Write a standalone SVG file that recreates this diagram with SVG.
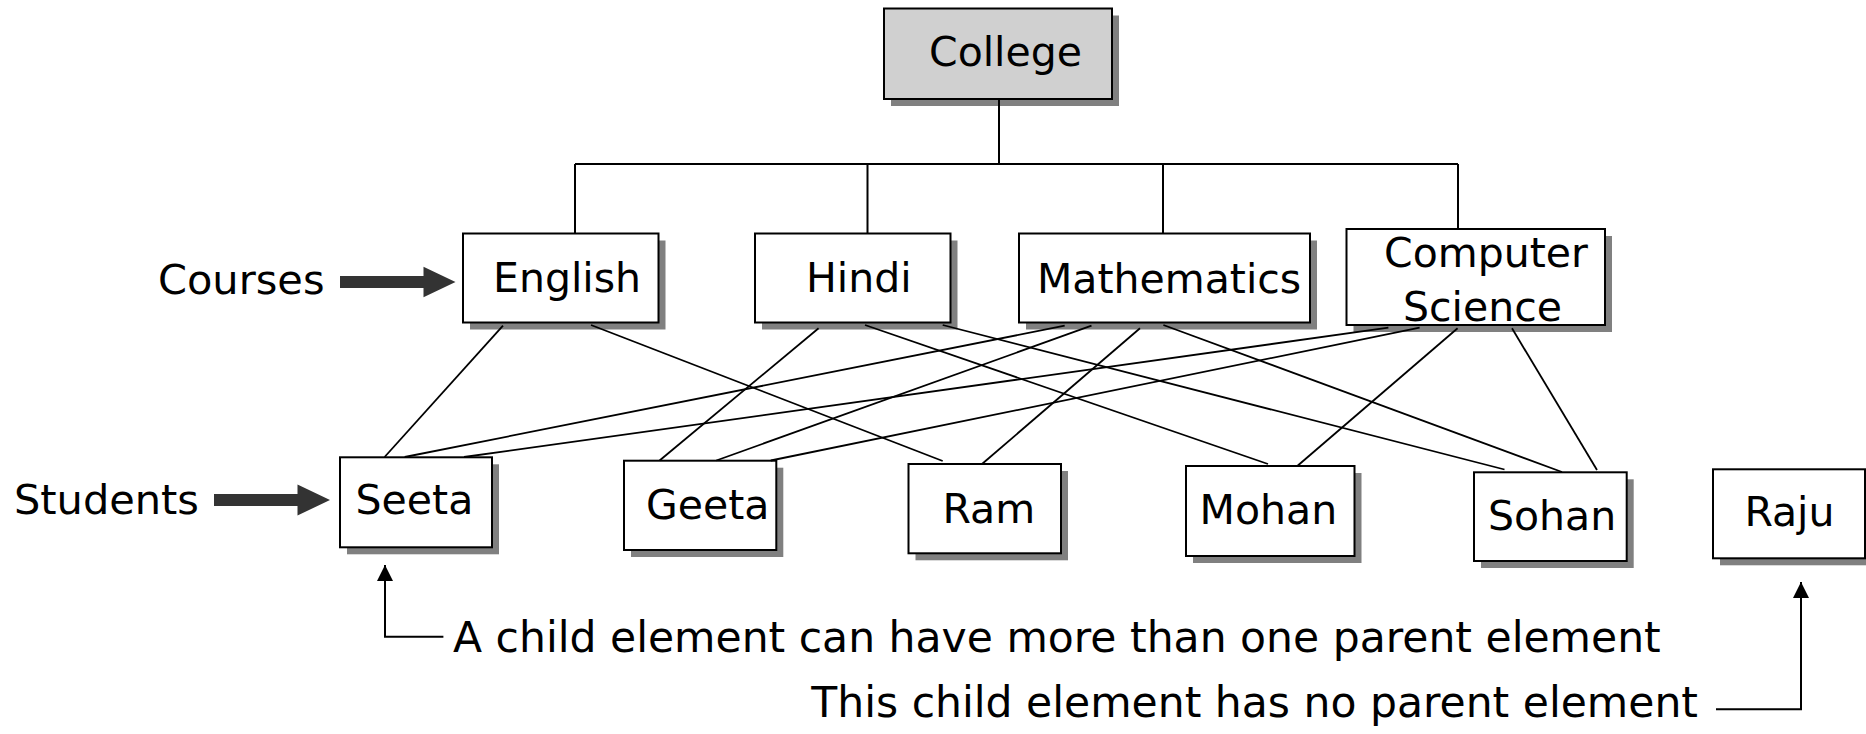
<svg xmlns="http://www.w3.org/2000/svg" width="1866" height="734" viewBox="0 0 1866 734">
  <style>
    .shadow { fill: #808080; }
    .box { fill: #ffffff; stroke: #000000; stroke-width: 2; }
    .root { fill: #d0d0d0; stroke: #000000; stroke-width: 2; }
    .label { font-family: "DejaVu Sans", Verdana, sans-serif; font-size: 41px; fill: #000000; }
    .side { font-family: "DejaVu Sans", Verdana, sans-serif; font-size: 41.5px; fill: #000000; }
    .note { font-family: "DejaVu Sans", Verdana, sans-serif; font-size: 42.5px; fill: #000000; }
    .tree { stroke: #000000; stroke-width: 2; fill: none; }
    .link { stroke: #000000; stroke-width: 1.8; fill: none; }
    .pointer { stroke: #000000; stroke-width: 2; fill: none; }
    .bigarrow { fill: #333333; }
  </style>
  <defs>
    <marker id="tip" markerUnits="userSpaceOnUse" markerWidth="18" markerHeight="18" refX="16" refY="8" orient="auto">
      <path d="M0,0 L16,8 L0,16 Z" fill="#000000"/>
    </marker>
  </defs>
  <rect width="1866" height="734" fill="#ffffff"/>

  <!-- root -->
  <g id="college">
    <rect class="shadow" x="891" y="15.5" width="228" height="90.5"/>
    <rect class="root" x="884" y="8.5" width="228" height="90.5"/>
    <text class="label" x="929" y="66">College</text>
  </g>

  <!-- courses -->
  <g id="english">
    <rect class="shadow" x="470" y="240.5" width="195.5" height="89"/>
    <rect class="box" x="463" y="233.5" width="195.5" height="89"/>
    <text class="label" x="493" y="292">English</text>
  </g>
  <g id="hindi">
    <rect class="shadow" x="762" y="240.5" width="195.5" height="89"/>
    <rect class="box" x="755" y="233.5" width="195.5" height="89"/>
    <text class="label" x="806" y="292">Hindi</text>
  </g>
  <g id="mathematics">
    <rect class="shadow" x="1026" y="240.5" width="291" height="89"/>
    <rect class="box" x="1019" y="233.5" width="291" height="89"/>
    <text class="label" x="1037" y="293">Mathematics</text>
  </g>
  <g id="computer-science">
    <rect class="shadow" x="1353.5" y="236" width="258.5" height="96"/>
    <rect class="box" x="1346.5" y="229" width="258.5" height="96"/>
    <text class="label" x="1384" y="266.5">Computer</text>
    <text class="label" x="1403" y="321">Science</text>
  </g>

  <!-- students -->
  <g id="seeta">
    <rect class="shadow" x="347" y="464.3" width="152" height="90"/>
    <rect class="box" x="340" y="457.3" width="152" height="90"/>
    <text class="label" x="355.6" y="514">Seeta</text>
  </g>
  <g id="geeta">
    <rect class="shadow" x="631" y="467.7" width="152.3" height="89.3"/>
    <rect class="box" x="624" y="460.7" width="152.3" height="89.3"/>
    <text class="label" x="646" y="519">Geeta</text>
  </g>
  <g id="ram">
    <rect class="shadow" x="915.5" y="471" width="152.5" height="89.3"/>
    <rect class="box" x="908.5" y="464" width="152.5" height="89.3"/>
    <text class="label" x="942.5" y="523">Ram</text>
  </g>
  <g id="mohan">
    <rect class="shadow" x="1193" y="473" width="168.5" height="90"/>
    <rect class="box" x="1186" y="466" width="168.5" height="90"/>
    <text class="label" x="1199.6" y="524">Mohan</text>
  </g>
  <g id="sohan">
    <rect class="shadow" x="1481" y="479.3" width="152.7" height="88.7"/>
    <rect class="box" x="1474" y="472.3" width="152.7" height="88.7"/>
    <text class="label" x="1488" y="530">Sohan</text>
  </g>
  <g id="raju">
    <rect class="shadow" x="1720" y="476.3" width="152" height="89"/>
    <rect class="box" x="1713" y="469.3" width="152" height="89"/>
    <text class="label" x="1744.4" y="526">Raju</text>
  </g>

  <!-- tree lines and course-student links, drawn over the box shadows -->
  <g id="connectors">
    <path class="tree" d="M999,99 V164 M575,164 H1458 M575,164 V233.5 M867.5,164 V233.5 M1163,164 V233.5 M1458,164 V229"/>
    <g class="link">
      <line x1="503" y1="325.7" x2="384.6" y2="457"/>
      <line x1="591" y1="325" x2="942.7" y2="461"/>
      <line x1="818.6" y1="328.3" x2="659.6" y2="460.5"/>
      <line x1="865" y1="325" x2="1268" y2="464"/>
      <line x1="942.7" y1="325" x2="1504.5" y2="469.5"/>
      <line x1="1064.7" y1="325.7" x2="404.7" y2="457"/>
      <line x1="1091.5" y1="325.7" x2="716.3" y2="460.5"/>
      <line x1="1140" y1="328.3" x2="982" y2="464"/>
      <line x1="1163.4" y1="325" x2="1562" y2="472"/>
      <line x1="1388.4" y1="327.7" x2="464" y2="457"/>
      <line x1="1419.6" y1="327.7" x2="770.8" y2="460.5"/>
      <line x1="1457.6" y1="328.3" x2="1297.3" y2="466"/>
      <line x1="1512" y1="328.3" x2="1597" y2="470"/>
    </g>
  </g>

  <!-- level labels -->
  <g id="courses-label">
    <text class="side" x="158" y="294">Courses</text>
    <path class="bigarrow" d="M340,276 H423.5 V266.7 L455.5,282 L423.5,297.3 V288 H340 Z"/>
  </g>
  <g id="students-label">
    <text class="side" x="14" y="514">Students</text>
    <path class="bigarrow" d="M214,494 H297.5 V484.5 L330,500 L297.5,515.5 V506 H214 Z"/>
  </g>

  <!-- notes -->
  <g id="note-many-parents">
    <path class="pointer" d="M443.4,636.7 H385 V565" marker-end="url(#tip)"/>
    <text class="note" x="453" y="652">A child element can have more than one parent element</text>
  </g>
  <g id="note-no-parent">
    <path class="pointer" d="M1716,709.3 H1801 V582" marker-end="url(#tip)"/>
    <text class="note" x="1698" y="717" text-anchor="end">This child element has no parent element</text>
  </g>
</svg>
